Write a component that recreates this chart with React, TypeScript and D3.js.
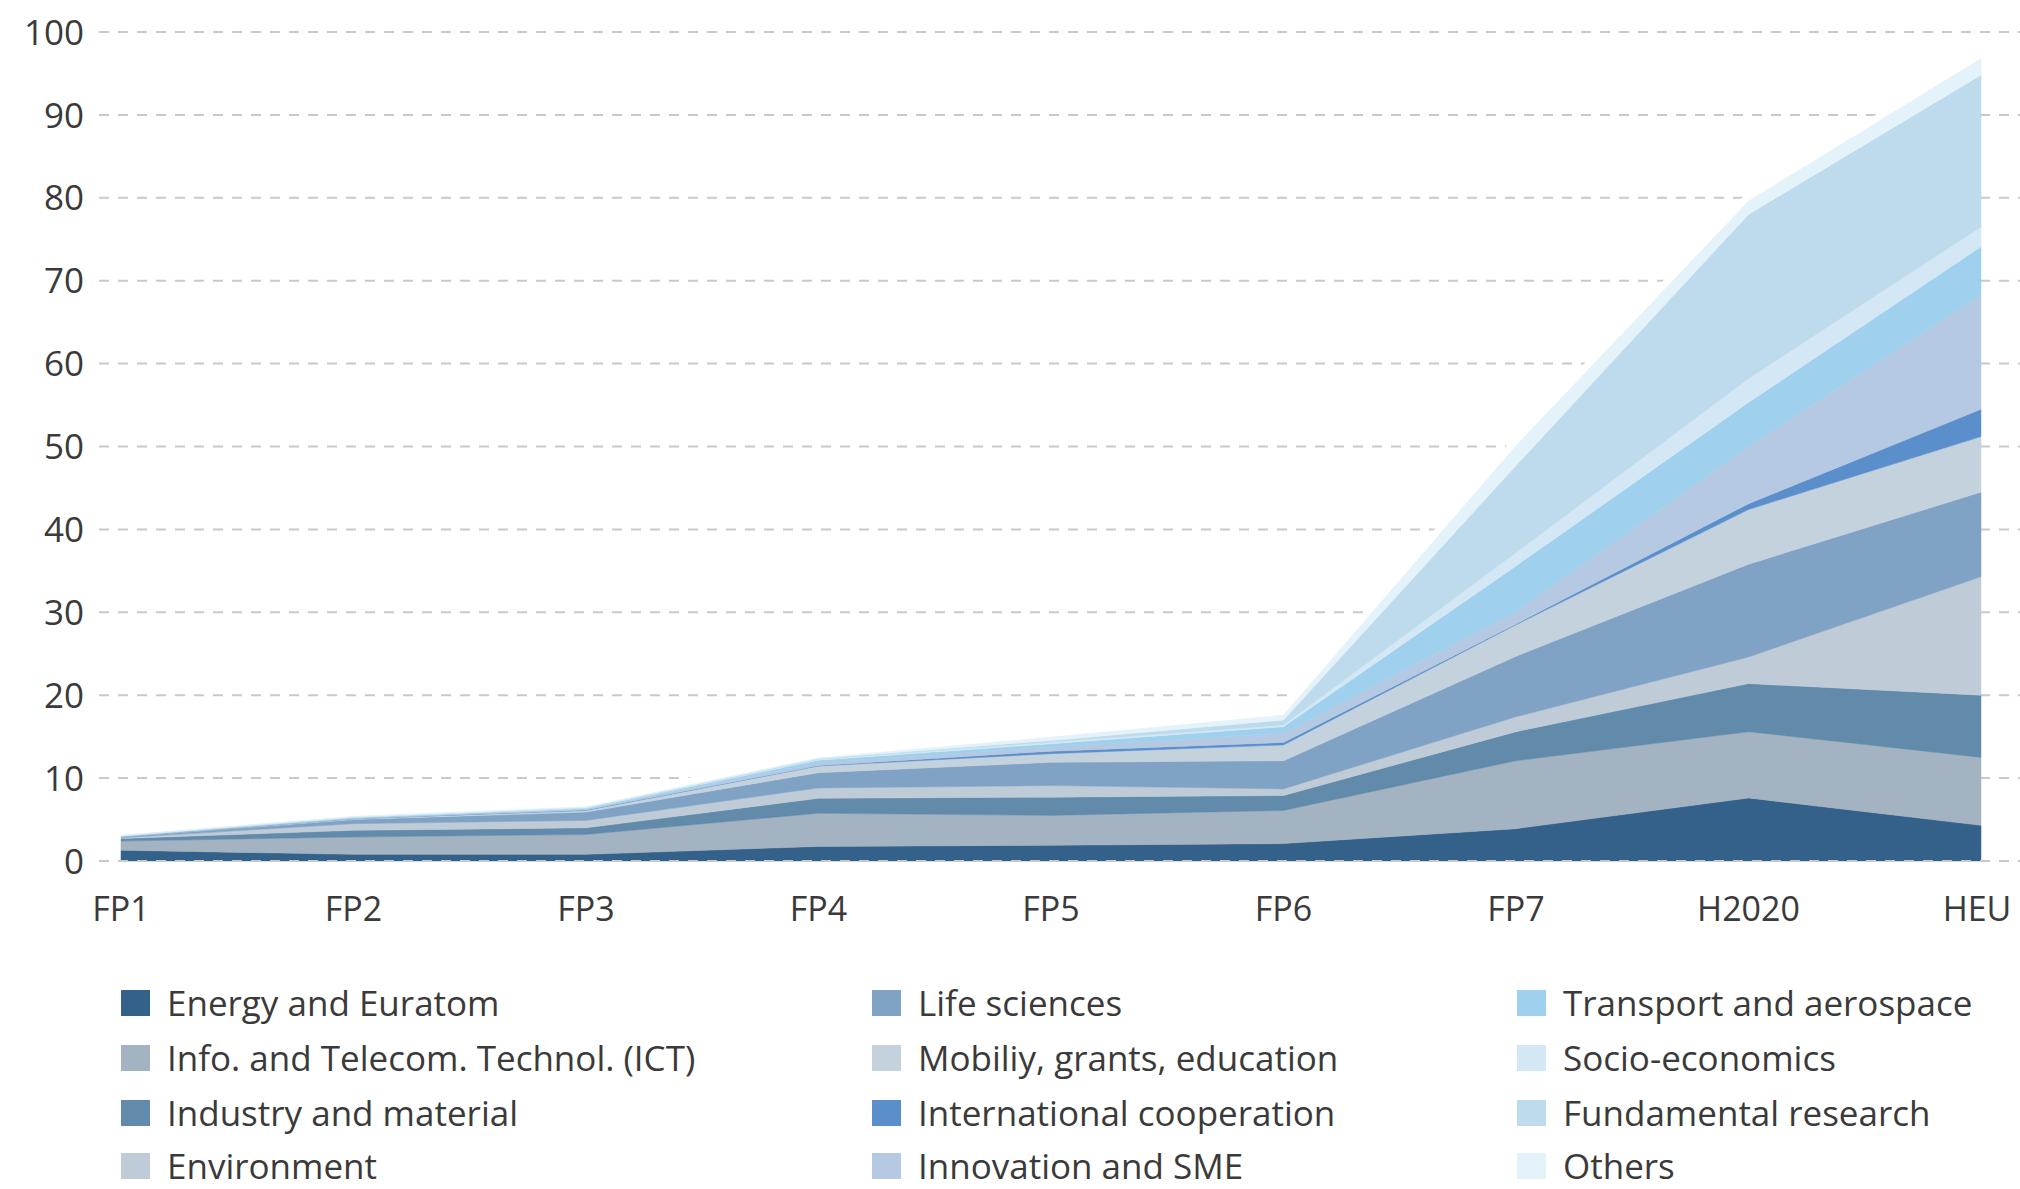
import React from "react";
import * as d3 from "d3";

const categories = ["FP1", "FP2", "FP3", "FP4", "FP5", "FP6", "FP7", "H2020", "HEU"];
const yTicks = [0, 10, 20, 30, 40, 50, 60, 70, 80, 90, 100];

const seriesNames = [
  "Energy and Euratom",
  "Info. and Telecom. Technol. (ICT)",
  "Industry and material",
  "Environment",
  "Life sciences",
  "Mobiliy, grants, education",
  "International cooperation",
  "Innovation and SME",
  "Transport and aerospace",
  "Socio-economics",
  "Fundamental research",
  "Others",
];

const energy = [1.3, 0.8, 0.8, 1.76, 1.9, 2.1, 3.9, 7.6, 4.3];
const ict = [1.1, 2.1, 2.4, 4.0, 3.6, 4.0, 8.2, 8.0, 8.2];
const industry = [0.3, 0.8, 0.8, 1.8, 2.2, 1.8, 3.5, 5.8, 7.5];
const environment = [0.1, 0.8, 0.9, 1.25, 1.4, 0.8, 1.8, 3.2, 14.3];
const lifeSciences = [0.1, 0.5, 1.0, 1.85, 2.8, 3.4, 7.3, 11.2, 10.2];
const mobility = [0.05, 0.1, 0.2, 0.8, 1.05, 1.9, 3.8, 6.6, 6.7];
const intlCoop = [0, 0, 0.05, 0.05, 0.3, 0.3, 0.1, 0.7, 3.3];
const innovation = [0.05, 0.1, 0.1, 0.35, 0.5, 1.1, 1.5, 6.9, 13.8];
const transport = [0, 0.05, 0.1, 0.3, 0.4, 0.8, 5.5, 5.3, 5.8];
const socio = [0.05, 0.05, 0.05, 0.1, 0.2, 0.2, 1.6, 2.9, 2.4];
const fundamental = [0, 0, 0.05, 0.1, 0.2, 0.6, 10.5, 19.8, 18.3];
const others = [0.05, 0.1, 0.1, 0.1, 0.4, 0.6, 2.4, 1.6, 2.0];

const seriesValues = [
  energy, ict, industry, environment, lifeSciences, mobility,
  intlCoop, innovation, transport, socio, fundamental, others,
];

const colors = [
  "#33618a", "#a3b3c1", "#618aab", "#bfccd8", "#80a3c5", "#c4d2de",
  "#5a8fcb", "#b5c9e3", "#9fd0ee", "#d3e8f4", "#bddbec", "#e4f2f9",
];

const W = 2020;
const H = 1189;
const FONT = "'Open Sans', 'Noto Sans', sans-serif";

export default function App() {
  const x = d3.scalePoint<string>().domain(categories).range([121, 1981]);
  const y = d3.scaleLinear().domain([0, 100]).range([861, 32]);

  const rows = categories.map((c, i) => {
    const r: any = { cat: c };
    seriesNames.forEach((n, k) => (r[n] = seriesValues[k][i]));
    return r;
  });
  const stacked = d3.stack<any>().keys(seriesNames)(rows);

  const area = d3
    .area<any>()
    .x((d) => x(d.data.cat) as number)
    .y0((d) => y(d[0]))
    .y1((d) => y(d[1]));

  const topLine = d3
    .line<any>()
    .x((d) => x(d.data.cat) as number)
    .y((d) => y(d[1]));

  const legendCols = [121, 872, 1517];
  const legendRows = [1003, 1058, 1113, 1166];

  return (
    <svg
      width={W}
      height={H}
      style={{ position: "absolute", left: 0, top: 0, background: "#fff" }}
      fontFamily={FONT}
    >
      <rect x={0} y={0} width={W} height={H} fill="#fff" />
      {yTicks
        .filter((t) => t !== 0)
        .map((t) => (
          <line
            key={t}
            x1={99}
            x2={W}
            y1={y(t)}
            y2={y(t)}
            stroke="#c9c9c9"
            strokeWidth={2}
            strokeDasharray="10,9"
          />
        ))}
      <path
        d={topLine(stacked[stacked.length - 1]) || ""}
        fill="none"
        stroke="#fff"
        strokeWidth={14}
        strokeLinejoin="round"
      />
      {stacked.map((s, i) => (
        <path key={s.key} d={area(s) || ""} fill={colors[i]} stroke={colors[i]} strokeWidth={0.5} />
      ))}
      <line
        x1={99}
        x2={W}
        y1={y(0)}
        y2={y(0)}
        stroke="#c9c9c9"
        strokeWidth={2}
        strokeDasharray="10,9"
      />
      {yTicks.map((t) => (
        <text
          key={t}
          x={84}
          y={y(t)}
          dy="0.36em"
          textAnchor="end"
          fontSize={35}
          fill="#3a3a3a"
        >
          {t}
        </text>
      ))}
      {categories.map((c, i) => (
        <text
          key={c}
          x={i === categories.length - 1 ? (x(c) as number) - 4 : (x(c) as number)}
          y={921}
          textAnchor="middle"
          fontSize={34}
          fill="#3a3a3a"
        >
          {c}
        </text>
      ))}
      {seriesNames.map((n, k) => {
        const col = Math.floor(k / 4);
        const row = k % 4;
        const lx = legendCols[col];
        const ly = legendRows[row];
        return (
          <g key={n}>
            <rect x={lx} y={ly - 13} width={29} height={26} fill={colors[k]} />
            <text x={lx + 46} y={ly + 12.5} fontSize={35} fill="#3a3a3a">
              {n}
            </text>
          </g>
        );
      })}
    </svg>
  );
}
